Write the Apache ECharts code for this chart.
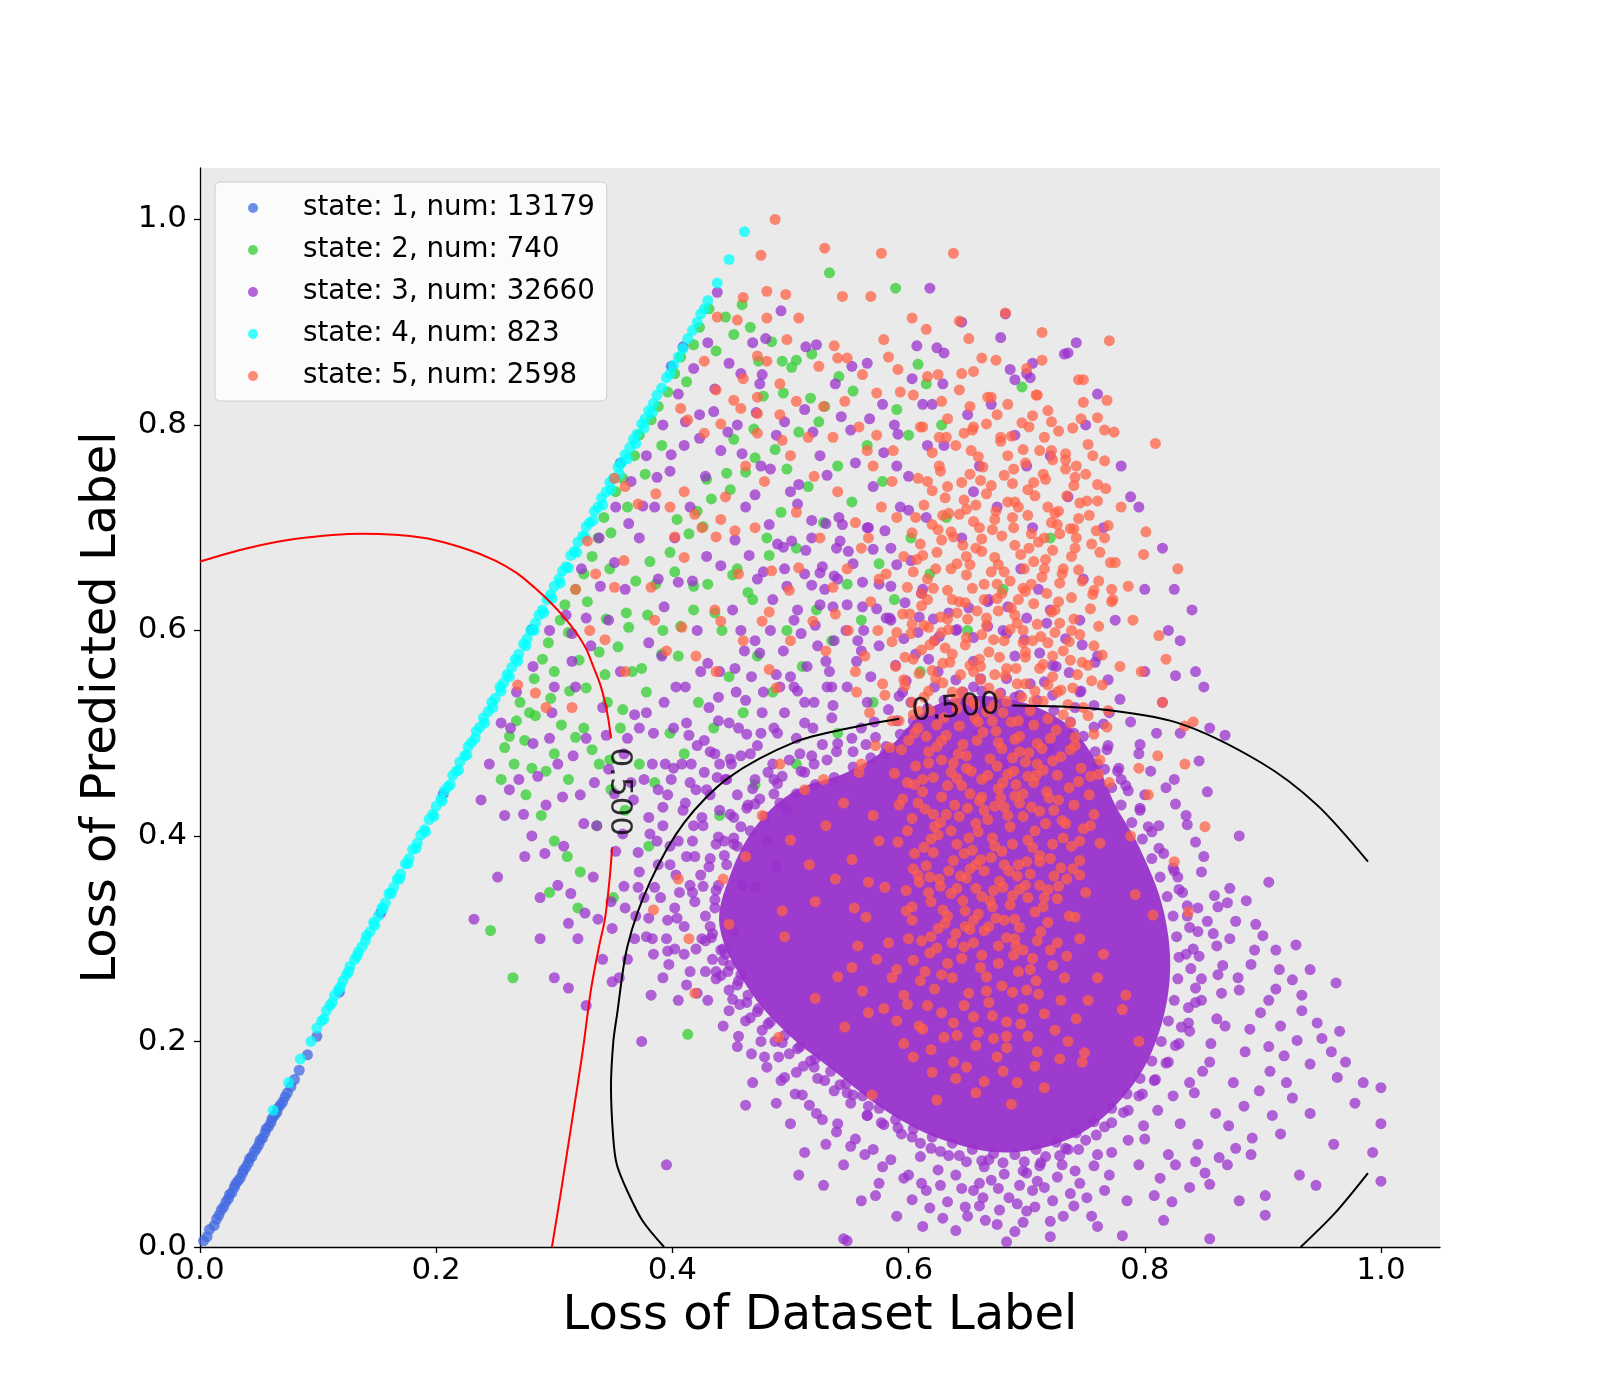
<!DOCTYPE html>
<html>
<head>
<meta charset="utf-8">
<script src="https://cdn.jsdelivr.net/npm/echarts@6/dist/echarts.min.js"></script>
<style>
  html, body { margin: 0; background: #fff; }
  #chart { width: 1600px; height: 1400px; }
</style>
</head>
<body>
<div id="chart"></div>
<script>
// every loss value below is written in thousandths (623 -> 0.623)

const stateIds = [1, 2, 3, 4, 5];
const stateCounts = [13179, 740, 32660, 823, 2598];
const stateColors = ['#4169E1', '#32CD32', '#9932CC', '#00FFFF', '#FF6347'];
const tickValues = [0, 0.2, 0.4, 0.6, 0.8, 1.0];

// state 1: the low end of the diagonal band
const state1Points = [
  [3,6],[6,10],[8,17],[12,21],[14,27],[16,31],[18,36],[20,39],[22,44],[24,47],[25,51],[27,53],[29,58],[30,61],
  [32,64],[34,67],[36,72],[37,75],[39,78],[41,82],[42,86],[44,88],[46,93],[48,96],[50,100],[51,104],[53,106],
  [55,111],[56,115],[58,117],[60,121],[61,125],[63,128],[65,131],[66,135],[68,138],[70,141],[72,146],[74,150],
  [77,156],[80,163],[84,172],[91,187],[99,205],[118,248],[153,325],[206,441],[281,601],[356,763],[399,857],[409,876]
];

// state 2
const state2Points = [
  [262,497],[271,530],[268,512],[283,553],[290,572],[279,520],[295,588],[300,560],[305,610],[312,598],[318,640],
  [309,625],[325,655],[332,672],[328,628],[337,690],[342,710],[348,695],[352,735],[358,748],[347,660],[362,720],
  [368,770],[372,790],[377,752],[382,805],[388,818],[391,780],[396,832],[402,850],[407,866],[412,842],[418,878],
  [423,895],[431,913],[437,872],[445,905],[452,888],[459,917],[466,895],[473,862],[484,881],[493,862],[505,863],
  [518,869],[533,948],[589,933],[608,859],[696,837],
  [300,480],[312,455],[325,505],[338,470],[345,530],[356,505],[366,560],[378,540],[392,600],[405,575],[418,620],
  [430,645],[442,600],[455,660],[468,630],[480,690],[492,715],[505,680],[515,740],[528,705],[540,760],[552,725],
  [565,780],[578,745],[590,815],[600,790],[615,840],[628,800],
  [255,455],[266,470],[276,440],[289,420],[300,395],[311,380],[322,365],[336,410],[348,445],[360,425],[372,470],
  [385,452],[398,500],[410,480],[422,530],[435,505],[448,555],[460,520],[472,575],[485,540],[497,600],[510,565],
  [522,620],[535,590],[548,645],[560,610],[575,665],[588,630],[602,690],[618,655],[632,710],
  [246,308],[265,262],[413,207],[296,345],[320,330],[350,340],[380,390],[440,420],[470,450],[505,470],[540,500],
  [570,530],[610,560],[650,600],[680,640],[720,690],
  [258,486],[275,493],[284,517],[297,534],[313,541],[321,571],[338,579],[344,611],[361,617],[369,648],[381,667],
  [398,676],[404,708],[421,716],[429,747],[446,753],[452,786],[469,796],[477,828],[494,831],[501,856],[517,826],
  [529,818],[541,847],[553,833],[281,466],[293,463],[306,508],[318,496],[327,544],[343,557],[354,584],[363,603],
  [379,615],[386,645],[402,657],[414,694],[426,701],[433,728],[449,737],[462,754],[470,768],[487,776],[497,757],
  [507,793],[524,803],[332,484],[347,474],[358,523],[374,563],[391,577],[407,604],[418,643],[436,617],[451,654],
  [464,637],[482,673]
];

// state 3: outline of the solid core, then the scattered points around it
const state3Core = [
  [440,312],[449,362],[471,410],[504,444],[548,462],[585,488],[612,520],[645,535],[690,532],[730,512],[756,478],
  [775,430],[795,390],[816,327],[821,259],[806,190],[778,141],[740,107],[685,92],[630,104],[583,131],[535,173],
  [497,208],[464,252]
];
const state3Points = [
  [232,319],[238,435],[245,470],[252,360],[258,420],[263,505],[270,455],[275,380],[282,490],[288,340],[293,430],
  [298,520],[303,470],[308,390],[312,315],[318,545],[322,440],[327,495],[333,360],[336,410],[341,525],[346,465],
  [349,310],[352,385],[356,560],[362,495],[367,435],[371,350],[378,520],[383,470],[387,395],[391,575],[396,440],
  [401,505],[406,345],[411,545],[416,470],[421,600],[426,410],[431,525],[436,480],[440,560],[446,455],[451,620],
  [456,505],[461,580],[466,480],[472,650],[477,540],[483,600],[489,500],[495,660],[500,555],[506,620],[512,530],
  [518,690],[523,585],[529,640],[535,545],[541,710],[547,600],[553,665],
  [255,510],[268,540],[282,565],[296,600],[310,615],[323,660],[338,690],[352,720],[365,745],[378,770],[392,800],
  [405,830],[418,855],[430,880],[360,640],[372,690],[385,720],[398,755],[410,780],[423,810],[436,835],[448,860],
  [346,610],[331,585],[315,570],[300,545],[388,650],[402,690],[415,720],[428,750],[441,775],[455,800],
  [462,720],[475,760],[488,790],[500,735],[512,815],[525,770],[538,840],[551,795],[565,860],[578,820],[590,760],
  [603,845],[616,780],[630,870],[468,880],[492,911],[438,929],[479,884],[513,876],[522,878],[607,877],[624,875],
  [552,857],[458,850],[476,849],[474,840],[629,840],[690,844],[703,846],[735,870],[686,854],[618,933],[645,900],
  [312,252],[327,235],[341,280],[355,262],[368,300],[382,245],[397,275],[300,262],[288,300],[320,300],[360,330],
  [374,200],
  [365,452],[372,505],[380,418],[388,372],[393,530],[399,455],[404,320],[409,425],[414,498],[419,380],[424,560],
  [429,445],[434,305],[439,512],[444,395],[449,475],[454,540],[459,352],[464,430],[470,590],[475,500],[480,395],
  [486,455],[491,545],[497,425],[503,610],[508,480],[514,565],[519,505],[525,625],[531,545],[537,590],[358,402],
  [376,340],[396,288],[417,345],[437,268],[452,308],[470,350],[488,370],[362,280],[349,258],[383,300],
  [402,330],[415,352],[425,300],[432,378],[418,410],[440,425],[452,398],[428,268],[445,285],[410,285],[398,372],
  [436,338],[455,440],[470,455],[485,470],[420,445],[405,395],[392,410],[385,350],[412,255],[430,240],[448,230],
  [462,220],[475,200],[490,185],[505,170],[458,265],[395,300],[380,320],[372,365],[388,445],[408,470],[432,482],
  [450,470],
  [495,165],[510,148],[522,130],[540,120],[555,105],[570,95],[585,85],[520,175],[548,150],[565,128],[478,185],
  [468,160],[500,120],[530,100],[545,80],[600,70],[575,62],[615,55],[560,45],[590,30],[610,88],[625,75],[488,140],
  [512,92],[455,195],[462,138],[528,60],[507,70],[395,80],
  [640,70],[655,55],[670,65],[685,48],[700,72],[715,58],[730,80],[745,62],[760,90],[650,30],[675,22],[700,35],
  [720,25],[740,40],[690,15],[660,40],[705,55],[735,95],[770,70],[785,45],[640,16],[572,50],[548,6],[545,8],
  [781,11],[816,26],[755,30],[668,85],[712,82],
  [830,120],[842,150],[855,180],[838,210],[848,240],[862,265],[835,285],[858,305],[845,330],[870,335],[828,360],
  [850,380],[812,410],[835,420],[800,440],[825,455],[853,443],[872,300],[880,250],[868,215],[885,190],[875,160],
  [860,130],[845,100],[820,90],[800,105],[795,80],[872,349],[894,314],[911,289],[928,294],[890,275],[905,240],
  [520,470],[540,490],[560,505],[580,480],[600,500],[620,520],[640,480],[660,500],[680,470],[700,510],[720,485],
  [740,500],[760,470],[780,455],[795,480],[810,500],[770,520],[745,540],[715,550],[690,535],[655,545],[625,560],
  [595,540],[565,530],[535,515],[505,495],[830,500],[826,556],[815,530],
  [1000,155],[1000,120],[1000,64],[993,92],[985,160],[963,165],[931,70],[902,31],[902,50],[950,203],[933,230],
  [855,61],[855,8],[940,130],[920,160],[915,110],[960,100],[945,60],[978,140],[890,90],[905,195],[925,260],
  [970,180],[962,257],[880,45],[870,80],[915,215],[940,270],[965,210],[905,355],[880,400],[846,473],
  [560,580],[585,610],[612,640],[640,600],[668,630],[695,660],[720,620],[748,650],[775,610],[800,640],[820,600],
  [585,680],[615,710],[645,690],[675,720],[705,700],[735,730],[765,700],[795,720],[600,750],[630,780],[660,760],
  [690,790],[720,770],[750,800],[780,760],[670,820],[700,850],[650,810],[620,820],[760,830],[800,560],[830,590],
  [850,545],[840,620],[815,680],[788,730],[742,880],[705,860],[678,885],[760,575],[725,565],[690,575],[655,570],
  [622,590],[745,610],[710,640],[680,600],[700,760],[655,735],[570,740],[588,800],[612,820],[565,700],[540,650],
  [825,640],[843,560],[868,498],[855,505],[682,908],[732,869],
  // rings hugging the solid core
  [428,322],[433,301],[441,289],[419,336],[426,351],[437,347],[431,370],[444,381],[452,392],[439,399],[458,409],
  [463,427],[449,421],[474,436],[468,446],[486,441],[493,458],[481,462],[509,463],[518,478],[499,474],[527,489],
  [539,482],[552,495],[564,489],[571,511],[583,523],[592,536],[598,551],[589,566],[606,577],[617,572],[626,594],
  [641,601],[655,593],[667,604],[683,597],[698,591],[711,578],[722,566],[736,559],[746,541],[757,527],[765,509],
  [769,488],[778,466],[784,449],[796,427],[803,409],[812,388],[824,369],[829,348],[836,332],[838,311],[841,290],
  [839,271],[843,252],[837,233],[831,214],[826,196],[818,179],[809,163],[798,149],[786,133],[772,121],[759,109],
  [744,95],[728,89],[711,79],[697,74],[681,71],[664,78],[649,83],[634,89],[619,96],[603,107],[591,116],[577,121],
  [566,137],[553,148],[542,158],[529,162],[517,181],[506,193],[493,199],[481,217],[472,229],[463,238],[455,255],
  [447,268],[443,279],[451,241],[437,261],
  [432,312],[436,330],[439,352],[446,372],[455,390],[466,405],[478,419],[491,432],[505,441],[521,450],[537,457],
  [553,467],[568,476],[581,487],[593,499],[604,512],[616,524],[630,532],[646,540],[662,541],[678,539],[694,537],
  [709,532],[723,522],[737,511],[748,497],[758,482],[766,465],[772,447],[780,430],[789,413],[798,397],[806,378],
  [813,360],[819,341],[824,322],[827,302],[829,282],[828,261],[825,240],[820,220],[814,200],[806,181],[796,164],
  [785,149],[772,135],[757,122],[742,111],[725,102],[708,95],[690,90],[672,91],[654,95],[637,101],[620,107],
  [604,115],[589,124],[575,135],[561,147],[547,159],[534,171],[521,183],[508,195],[495,206],[483,219],[473,232],
  [464,245],[456,259],[449,274],[443,290],
  [420,290],[424,362],[437,392],[452,418],[470,431],[489,451],[512,462],[531,474],[553,482],[572,496],[590,512],
  [602,530],[622,545],[640,552],[661,553],[683,553],[703,548],[722,537],[741,525],[757,506],[768,484],[777,463],
  [786,444],[796,425],[806,404],[816,383],[825,366],[832,345],[836,322],[845,307],[846,283],[848,261],[843,238],
  [837,218],[829,198],[820,180],[808,162],[795,147],[782,131],[766,117],[750,104],[733,96],[716,88],[698,83],
  [680,82],[662,84],[643,89],[627,93],[610,101],[594,110],[579,119],[565,128],[551,140],[537,152],[523,164],
  [511,176],[499,188],[487,200],[476,211],[466,223],[457,236],[448,250],[441,264],[434,280],[428,298],
  [410,312],[402,290],[415,268],[421,247],[405,240],[392,262],[384,285],[396,318],[390,340],[378,302],[369,322],
  [403,362],[412,380],[398,390],[417,395],[425,418],[411,432],[432,440],[445,455],[427,462],[440,470],[458,478],
  [472,488],[463,499],[486,505],[495,520],[512,510],[520,530],[506,541],[536,527],[548,545],[533,560],[556,570],
  [568,555],[575,585],[562,600],[581,612],
  [443,215],[456,205],[467,188],[480,175],[492,162],[504,149],[516,138],[527,124],[539,112],[551,98],[563,90],
  [578,78],[596,67],[611,62],[627,60],[645,57],[660,62],[676,57],[694,60],[709,64],[726,68],[741,74],[757,79],
  [772,92],[786,104],[799,118],[811,133],[824,147],[838,160],[849,171],[856,198],[861,222],[865,247],[866,274],
  [861,293],[853,317],[859,342],[848,365],[843,394],[836,411],[826,431],[818,447],[805,463],[796,489],[788,511],
  [779,533],[769,552],[758,569],[747,586],[733,592],[717,607],[700,612],[684,623],[667,628],[651,622],[634,617],
  [621,611],[608,598],[596,592],
  [603,46],[618,38],[633,44],[648,39],[663,48],[677,36],[692,42],[707,39],[722,45],[737,52],[751,48],[766,55],
  [629,28],[665,26],[697,24],[731,30],[612,20],[683,5],[720,10],[760,20],
  [871,118],[884,137],[897,152],[906,171],[918,186],[929,201],[889,212],[898,228],[911,251],[879,262],[893,289],
  [877,317],[862,331],[886,337],[900,303],[914,270],[933,245],[946,218],[958,190],[940,178],[925,145],[908,128],
  [891,106],[877,96],[863,87],[851,72],[838,58],[823,44],[808,50],[813,67],[826,80],[843,83],
  // upper-left wedge
  [262,445],[274,421],[286,458],[296,495],[307,438],[316,478],[325,412],[334,452],[344,498],[351,441],[359,480],
  [368,518],[376,455],[384,500],[394,470],[403,545],[412,510],[421,488],[430,568],[439,535],[448,510],[458,600],
  [467,555],[476,520],[485,630],[494,580],[503,545],[512,655],[521,605],[530,570],[539,680],[548,625],[557,590],
  [566,700],[575,645],[584,612],[593,720],[602,668],[611,636],
  [281,400],[292,383],[303,352],[314,344],[326,325],[337,319],[348,336],[359,351],[371,384],[381,402],[392,428],
  [401,466],[415,452],[427,493],[438,457],[453,563],[462,532],[474,578],[488,557],[497,643],[509,597],[518,644],
  [527,662],[536,623],[544,703],[561,647],[570,679],[580,697],[590,664],[600,717],
  [315,597],[327,612],[339,643],[351,666],[363,704],[375,721],[387,749],[399,771],[411,803],[423,787],[435,813],
  [447,793],[459,772],[471,812],[483,757],[495,803],[507,742],[519,793],[531,751],[543,808],[555,763],[567,806],
  [579,773],[591,791],[470,732],[482,703],[494,681],[506,723],[518,707],[530,704],[542,687],
  [380,588],[393,623],[405,647],[417,648],[429,672],[441,663],[453,688],[465,673],[477,657],[489,684],[501,687],
  [513,678],[525,656],[537,653],[549,677],[561,623],[573,621],[585,643],[597,627],[609,613]
];

// state 4: the upper part of the diagonal band
const state4Points = [
  [62,133],[75,160],[85,183],[94,200],[99,213],[103,220],[107,230],[110,235],[114,245],[117,250],[121,259],
  [124,265],[127,273],[131,280],[134,287],[137,292],[141,303],[144,307],[147,316],[151,322],[154,330],[157,335],
  [160,344],[164,350],[167,358],[170,363],[174,373],[177,378],[180,387],[184,393],[187,401],[190,406],[194,416],
  [197,421],[200,429],[204,436],[207,444],[210,448],[214,459],[217,463],[220,472],[224,478],[227,487],[230,491],
  [234,502],[237,506],[240,515],[244,521],[247,530],[250,534],[254,545],[257,549],[260,557],[264,564],[267,572],
  [270,577],[274,587],[277,592],[280,600],[284,607],[287,615],[290,620],[294,630],[297,635],[300,643],[304,650],
  [307,658],[310,662],[314,673],[317,677],[320,686],[324,692],[327,701],[330,705],[334,716],[337,720],[340,729],
  [344,735],[347,744],[350,748],[354,759],[357,763],[360,771],[364,778],[367,786],[370,791],[374,801],[377,806],
  [380,814],[384,821],[387,829],[391,836],[395,846],[398,850],[401,858],[405,866],[409,874],[413,884],[417,892],
  [421,900],[424,908],[427,913],[430,921],[438,938],[448,961],[461,988],
  [105,222],[112,238],[119,253],[126,268],[133,283],[140,298],[148,313],[155,329],[162,344],[169,358],[176,373],
  [183,388],[191,404],[198,419],[205,434],[212,450],[219,464],[226,479],[233,495],[241,510],[248,525],[255,541],
  [262,555],[269,570],[276,585],[283,600],[291,617],[298,631],[305,646],[312,661],[319,676],[326,691],[333,707],
  [341,722],[348,737],[355,752],[362,767],[369,782],[376,797],[383,812]
];

// state 5
const state5Points = [
  [611,298],[624,291],[640,305],[655,296],[668,312],[683,301],[697,289],[712,307],[726,296],[603,318],[633,322],
  [648,327],[671,331],[690,319],[707,326],[741,321],[619,336],[662,341],
  [598,347],[609,355],[627,351],[644,361],[657,349],[677,356],[688,342],[703,363],[718,348],[734,358],[750,345],
  [615,371],[638,376],[652,368],[670,379],[693,372],[711,381],[729,369],[745,376],[605,383],
  [591,394],[613,389],[625,401],[641,392],[659,404],[673,390],[686,409],[701,396],[716,412],[731,398],[748,407],
  [762,393],[603,417],[632,421],[650,427],[667,416],[681,428],[697,419],[723,425],[740,430],[757,421],
  [595,436],[612,443],[628,438],[645,449],[660,434],[676,446],[690,439],[706,452],[719,437],[736,447],[753,440],
  [770,452],[588,461],[606,468],[621,457],[638,471],[653,463],[669,475],[684,460],[699,472],[714,464],[729,477],
  [746,466],[762,474],
  [584,486],[600,493],[617,482],[632,498],[646,489],[663,501],[679,485],[694,497],[709,490],[725,503],[741,488],
  [757,499],[592,512],[609,521],[624,508],[641,524],[656,515],[672,527],[687,511],[703,522],[718,514],[735,528],
  [752,517],[768,506],
  [580,537],[597,546],[613,535],[629,549],[645,540],[661,552],[676,538],[692,548],[707,541],[722,555],[739,544],
  [755,551],[589,565],[604,572],[620,561],[637,577],[652,566],[668,579],[683,563],[699,574],[714,567],[731,580],
  [747,569],[764,576],
  [586,589],[602,597],[618,586],[634,601],[649,593],[666,605],[681,590],[697,600],[712,594],[728,607],[745,596],
  [761,604],[595,616],[611,624],[627,613],[643,628],[658,619],[675,631],[690,615],[706,626],[721,618],[738,632],
  [754,621],[772,628],
  [599,642],[616,650],[633,639],[649,654],[664,645],[681,657],[697,641],[713,652],[728,646],[744,659],[761,648],
  [607,669],[624,676],[641,665],[657,680],[673,671],[690,683],[706,667],[722,678],[738,672],[755,684],[771,666],
  [603,695],[620,703],[638,691],[655,706],[671,698],[688,710],[704,694],[721,705],[737,699],[753,712],[769,702],
  [613,722],[631,729],[649,718],[666,733],[684,725],[701,737],[718,720],[734,731],[751,726],[767,738],
  [608,748],[627,755],[645,744],[663,759],[681,751],[699,763],[716,747],[733,757],[750,752],[766,765],[620,773],
  [640,780],[659,769],[678,784],[697,776],[715,788],[733,772],[752,781],
  [612,798],[633,806],[654,795],[675,810],[696,802],[718,814],[739,797],[760,807],[628,823],[667,827],[708,829],
  [748,822],
  [636,344],[664,366],[681,372],[647,383],[622,409],[657,412],[694,432],[641,456],[675,468],[702,481],[628,474],
  [658,493],[688,476],[615,497],[671,512],[696,535],[640,533],[623,553],[682,556],[655,560],[697,588],[631,583],
  [672,591],[613,605],[650,611],[687,622],[664,630],[636,660],[698,660],[675,645],[611,636],[718,588],[726,540],
  [709,470],[651,398],[618,360],[699,352],[674,320],[648,312],[733,412],[605,500],[727,628],[660,700],[629,712],
  [690,725],[715,690],[744,709],[738,600],[605,450],[684,420],[711,375],[628,265],[661,272],[689,284],[645,281],
  [703,270],
  [603,331],[617,345],[629,328],[646,337],[659,324],[672,347],[686,333],[701,340],[714,331],[727,351],[608,362],
  [621,384],[634,366],[649,359],[661,377],[679,385],[692,361],[705,389],[720,378],[738,390],[599,405],[614,426],
  [627,413],[639,430],[652,441],[664,425],[678,437],[691,450],[704,428],[717,443],[730,415],[612,455],[624,487],
  [636,462],[649,478],[662,455],[676,491],[689,463],[701,458],[713,485],[726,459],[741,496],[604,518],[617,541],
  [630,515],[643,507],[656,528],[668,544],[680,520],[693,512],[706,531],[718,547],[731,518],[597,574],[609,558],
  [622,590],[635,569],[648,586],[660,572],[673,557],[686,601],[699,579],[711,563],[724,598],[737,571],[603,606],
  [616,630],[628,598],[641,617],[654,641],[666,612],[679,636],[692,607],[704,645],[717,636],[730,655],[610,684],
  [623,660],[636,696],[649,672],[662,689],[676,664],[689,700],[702,680],[715,660],[728,694],[741,680],[620,736],
  [634,714],[647,727],[661,746],[674,716],[688,743],[701,712],[714,752],[727,716],[740,741],[626,760],[653,775],
  [684,770],[711,775],[742,760],[760,726],[766,690],[772,640],[757,585],[769,522],[761,460],[754,410],[745,362],
  [736,322],[592,430],[586,512],[590,598],[596,672],
  [619,302],[637,296],[652,309],[676,293],[694,311],[709,298],[631,315],[664,308],[681,318],[718,316],[598,327],
  [641,349],[669,337],[694,348],[711,352],[726,339],[604,368],[626,358],[657,372],[685,366],[700,375],[723,361],
  [739,368],[619,397],[636,405],[654,386],[671,398],[688,392],[707,405],[722,392],[745,395],[608,432],[621,421],
  [643,419],[662,438],[673,429],[697,441],[711,424],[727,435],[744,453],[599,452],[617,471],[633,449],[649,466],
  [667,459],[680,452],[694,482],[708,459],[722,473],[737,484],[754,458],[594,484],[608,505],[628,493],[642,480],
  [659,511],[674,502],[690,494],[706,508],[720,495],[737,510],[748,525],[603,530],[618,522],[637,540],[652,532],
  [666,521],[683,531],[699,548],[714,531],[729,542],[743,557],[596,552],[611,581],[629,568],[644,557],[661,565],
  [677,574],[691,563],[705,590],[722,575],[736,589],[752,566],[601,616],[617,603],[633,611],[648,627],[662,596],
  [676,619],[693,630],[709,606],[724,620],[740,611],[757,639],[604,657],[621,641],[637,630],[652,664],[670,657],
  [686,648],[699,638],[716,669],[731,660],[747,648],[762,676],[612,673],[628,688],[646,683],[662,677],[679,692],
  [695,674],[710,686],[726,703],[742,690],[759,697],[606,710],[625,698],[643,713],[657,722],[673,708],[693,720],
  [707,731],[724,714],[745,724],[760,742],[616,745],[633,740],[652,752],[670,741],[689,757],[706,744],[722,766],
  [741,749],[756,770],[626,788],[647,792],[666,801],[687,789],[705,809],[727,794],[746,806],[652,818],[684,820],
  [721,803],
  [560,470],[572,488],[567,520],[578,548],[563,575],[574,600],[568,628],[581,655],[566,690],[577,720],[586,745],
  [573,790],[556,540],[549,600],
  // lower tail of the column
  [612,212],[628,228],[641,206],[655,224],[668,238],[683,219],[697,232],[710,246],[622,251],[637,262],[651,247],
  [666,263],[679,254],[693,268],[708,259],[722,274],[604,279],[618,286],[633,276],[647,292],[662,284],[676,276],
  [691,293],[705,281],[720,289],[734,283],[599,236],[614,268],[657,196],[672,203],[688,248],[701,205],[715,227],
  [729,240],[742,222],[760,262],[579,232],[586,262],[573,280],[640,164],[657,150],[675,185],[692,160],[715,155],
  [735,200],[604,185],[596,198],[620,170],[546,214],[566,228],[625,310],[655,318],[690,300],[715,340],[680,350],
  [600,300],
  [569,148],[687,139],[624,143],[707,176],[747,180],[728,183],[664,161],[649,175],[680,171],[619,192],[638,180],
  [709,190],[683,194],[749,189],[795,200],[490,204],[521,242],[419,247],[540,263],[561,249],[590,220],[609,215],
  [630,204],[659,209],[683,205],[695,217],[724,211],[781,231],[784,245],[610,259],[616,235],[647,235],[666,249],
  [638,218],[671,225],[552,272],[590,270],[583,296],[557,293],[700,250],[732,262],[752,240],[765,285],[745,300],
  [596,245],
  [500,396],[516,372],[538,358],[552,377],[566,355],[521,336],[554,330],[564,321],[580,350],[493,327],[495,302],
  [448,314],[443,358],[405,358],[384,328],[414,300],[530,410],[545,432],[512,445],[570,420],[476,420],[462,380],
  [575,395],[528,455],[558,462],[491,470],
  [825,375],[837,326],[807,323],[792,343],[851,409],[834,470],[811,478],[795,466],[841,511],[834,507],[788,400],
  [803,440],[815,530],[797,560],[779,565],[764,547],[786,643],[775,666],[756,635],[773,630],[801,696],[799,674],
  [740,699],[812,595],[790,610],[818,572],[828,660],[780,720],
  [460,924],[480,930],[496,927],[438,905],[455,902],[480,904],[507,904],[544,925],[568,925],[577,967],[529,972],
  [475,965],[638,967],[487,1000],[603,904],[615,893],[643,901],[651,884],[682,909],[713,890],[770,882],[579,883],
  [583,866],[537,877],[497,883],[472,867],[480,862],[427,862],[437,834],[452,824],[460,845],[472,827],[491,840],
  [524,857],[540,865],[548,865],[561,849],[591,854],[616,847],[625,849],[645,850],[655,852],[700,855],[748,844],
  [713,863],[662,865],[674,863],[768,824],[709,829],[670,827],[643,834],[604,829],[593,832],[573,831],[546,823],
  [528,818],[505,823],[491,810],[472,811],[458,816],[407,816],[413,805],[441,801],[427,792],[472,792],[493,785],
  [515,788],[536,788],[558,798],[565,775],[587,775],[610,798],[632,788],[655,798],[678,788],[702,798],[721,775],
  [733,766],[766,795],[774,793],[809,782],[744,844],
  [351,748],[360,740],[371,723],[386,733],[398,720],[402,691],[410,735],[419,713],[425,700],[437,691],[441,708],
  [453,697],[328,687],[359,668],[335,655],[351,642],[382,642],[410,671],[408,603],[441,609],[436,620],[476,609],
  [482,618],[499,639],[484,658],[456,655],[507,661],[536,642],[538,616],[519,609],[437,560],[482,562],[488,544],
  [343,591],[269,547],[284,539],[293,525],[462,760],[478,745],[500,770],[520,750],[540,735],[555,705],[525,690],
  [505,715],[470,700],[445,730],[560,680],[575,650],[548,660],[590,710],[570,760],[385,610],[395,580],[420,575],
  [460,590],[500,590],[530,580],[555,560],[360,560],[315,525],[330,600],[318,640]
];

// contour lines at level 0.500 (red and black), split where the inline labels sit
const contourLevel = '0.500';
const redContourUpper = [
  [0,667],[40,680],[80,689],[138,694],[190,690],[226,679],[250,668],[268,656],[283,642],[297,627],[309,612],
  [319,597],[327,582],[333,565],[339,547],[343,530],[346,512],[348,495]
];
const redContourLower = [
  [349,389],[347,360],[343,320],[338,293],[331,250],[324,190],[316,130],[305,49],[298,0]
];
const blackContourLeft = [
  [393,0],[375,25],[362,54],[353,80],[350,105],[348,156],[350,200],[353,225],[362,293],[381,355],[410,413],
  [448,457],[505,492],[550,505],[592,514]
];
const blackContourRight = [
  [688,527],[756,524],[828,510],[899,471],[946,430],[989,375]
];
const blackContourCorner = [
  [989,72],[961,33],[932,0]
];
const contourLabelPos = [[640,524],[355,443]];
const contourLabelRotate = [5, -90];

const toLoss = (pts) => pts.map((p) => [p[0] / 1000, p[1] / 1000]);

const stateNames = stateIds.map((id, i) => 'state: ' + id + ', num: ' + stateCounts[i]);
const statePoints = [state1Points, state2Points, state3Points, state4Points, state5Points];
const FONT = '"DejaVu Sans", sans-serif';

const scatterSeries = statePoints.map((pts, i) => ({
  type: 'scatter',
  name: stateNames[i],
  data: toLoss(pts),
  symbol: 'circle',
  symbolSize: 11,
  itemStyle: { color: stateColors[i], opacity: 0.75 },
  silent: true,
  z: 2,
}));

const coreSeries = {
  type: 'custom',
  name: 'state3-core',
  data: toLoss(state3Core),
  silent: true,
  z: 2,
  renderItem(params, api) {
    if (params.dataIndex !== 0) return null;
    const pts = toLoss(state3Core).map((p) => api.coord(p));
    return {
      type: 'polygon',
      shape: { points: pts, smooth: 0.35 },
      style: { fill: stateColors[2], opacity: 0.95 },
    };
  },
};

const contourLine = (pts, color) => ({
  type: 'line',
  data: toLoss(pts),
  symbol: 'none',
  smooth: 0.3,
  silent: true,
  lineStyle: { color: color, width: 2 },
  z: 5,
});

const labelSeries = {
  type: 'scatter',
  data: toLoss(contourLabelPos).map((p, i) => ({
    value: p,
    label: { rotate: contourLabelRotate[i] },
  })),
  symbolSize: 0,
  silent: true,
  z: 6,
  label: {
    show: true,
    position: 'inside',
    formatter: contourLevel,
    color: '#000',
    fontSize: 31,
    fontFamily: FONT,
  },
};

const series = [
  scatterSeries[0],
  scatterSeries[1],
  coreSeries,
  scatterSeries[2],
  scatterSeries[3],
  scatterSeries[4],
  contourLine(redContourUpper, '#ff0000'),
  contourLine(redContourLower, '#ff0000'),
  contourLine(blackContourLeft, '#000000'),
  contourLine(blackContourRight, '#000000'),
  contourLine(blackContourCorner, '#000000'),
  labelSeries,
];

const axisCommon = {
  type: 'value',
  min: 0,
  max: 1.05,
  interval: 0.2,
  splitLine: { show: false },
  axisLine: { show: true, onZero: false, lineStyle: { color: '#000', width: 1.3 } },
  axisTick: { show: true, length: 6, customValues: tickValues, lineStyle: { color: '#000', width: 1.3 } },
  nameLocation: 'middle',
  nameTextStyle: { fontSize: 48, color: '#000', fontFamily: FONT },
};

const chart = echarts.init(document.getElementById('chart'));
chart.setOption({
  animation: false,
  backgroundColor: '#ffffff',
  grid: {
    left: 200, top: 168, width: 1240, height: 1079,
    show: true, backgroundColor: '#eaeaea', borderWidth: 0,
  },
  legend: {
    data: stateNames,
    orient: 'vertical',
    left: 215,
    top: 182,
    padding: [10, 12, 9, 33],
    itemWidth: 10,
    itemHeight: 10,
    itemGap: 10,
    icon: 'circle',
    selectedMode: false,
    backgroundColor: 'rgba(255,255,255,0.8)',
    borderColor: '#cccccc',
    borderWidth: 1,
    borderRadius: 5,
    textStyle: {
      fontSize: 27.7, color: '#000', fontFamily: FONT, lineHeight: 32, padding: [0, 0, 0, 40],
    },
  },
  xAxis: Object.assign({}, axisCommon, {
    name: 'Loss of Dataset Label',
    nameGap: 46,
    axisLabel: {
      customValues: tickValues, formatter: (v) => v.toFixed(1),
      fontSize: 31, color: '#000', fontFamily: FONT, margin: 8,
    },
  }),
  yAxis: Object.assign({}, axisCommon, {
    name: 'Loss of Predicted Label',
    nameGap: 72,
    axisLabel: {
      customValues: tickValues, formatter: (v) => v.toFixed(1),
      fontSize: 31, color: '#000', fontFamily: FONT, margin: 13,
    },
  }),
  series: series,
});
</script>
</body>
</html>
